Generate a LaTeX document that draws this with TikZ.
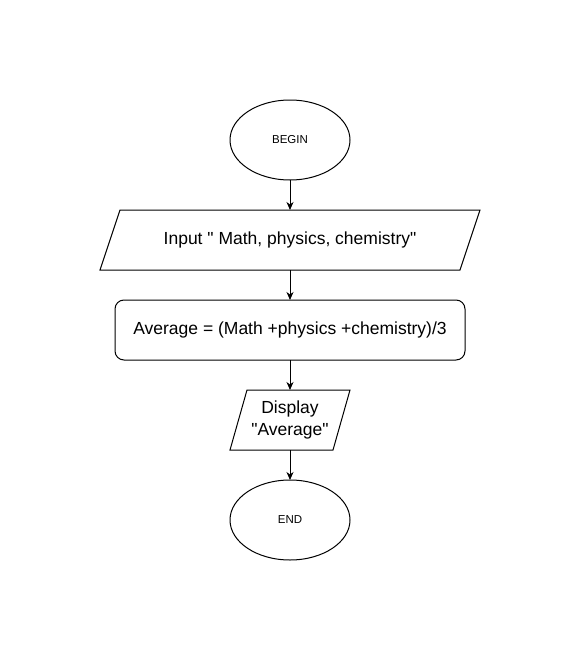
\documentclass[tikz,border=0pt]{standalone}
\usepackage{fontspec}
\setmainfont{Liberation Sans}[Ligatures=TeXOff]
\usetikzlibrary{arrows.meta,shapes.geometric}
\begin{document}
\begin{tikzpicture}[x=1pt,y=-1pt,
  every node/.style={inner sep=0pt,outer sep=0pt},
  term/.style={ellipse,draw,line width=1pt,minimum width=120pt,minimum height=80pt,font=\fontsize{11.5}{13}\selectfont},
  procbox/.style={draw,line width=1pt,rounded corners=9pt,minimum width=350pt,minimum height=60pt,font=\fontsize{17.5}{21}\selectfont},
  iobox/.style={minimum height=60pt,font=\fontsize{17.5}{22}\selectfont,align=center},
  para/.style={draw,line width=1pt,line join=miter},
  conn/.style={line width=1pt,-{Stealth[length=8pt,width=7pt,inset=2.5pt]}}]
\useasboundingbox (0,0) rectangle (581,661);
\node[term] (begin) at (290,140) {BEGIN};
\node[iobox,minimum width=360pt] (in) at (290,240) {Input " Math, physics, chemistry"};
\draw[para] ([xshift=10pt]in.north west) -- ([xshift=10pt]in.north east) -- ([xshift=-10pt]in.south east) -- ([xshift=-10pt]in.south west) -- cycle;
\node[procbox] (avg) at (290,330) {Average = (Math +physics +chemistry)/3};
\node[iobox,minimum width=103pt] (disp) at (290,420) {Display\\"Average"};
\draw[para] ([xshift=8.5pt]disp.north west) -- ([xshift=8.5pt]disp.north east) -- ([xshift=-8.5pt]disp.south east) -- ([xshift=-8.5pt]disp.south west) -- cycle;
\node[term] (end) at (290,520) {END};
\draw[conn] (begin) -- (in);
\draw[conn] (in) -- (avg);
\draw[conn] (avg) -- (disp);
\draw[conn] (disp) -- (end);
\end{tikzpicture}
\end{document}
